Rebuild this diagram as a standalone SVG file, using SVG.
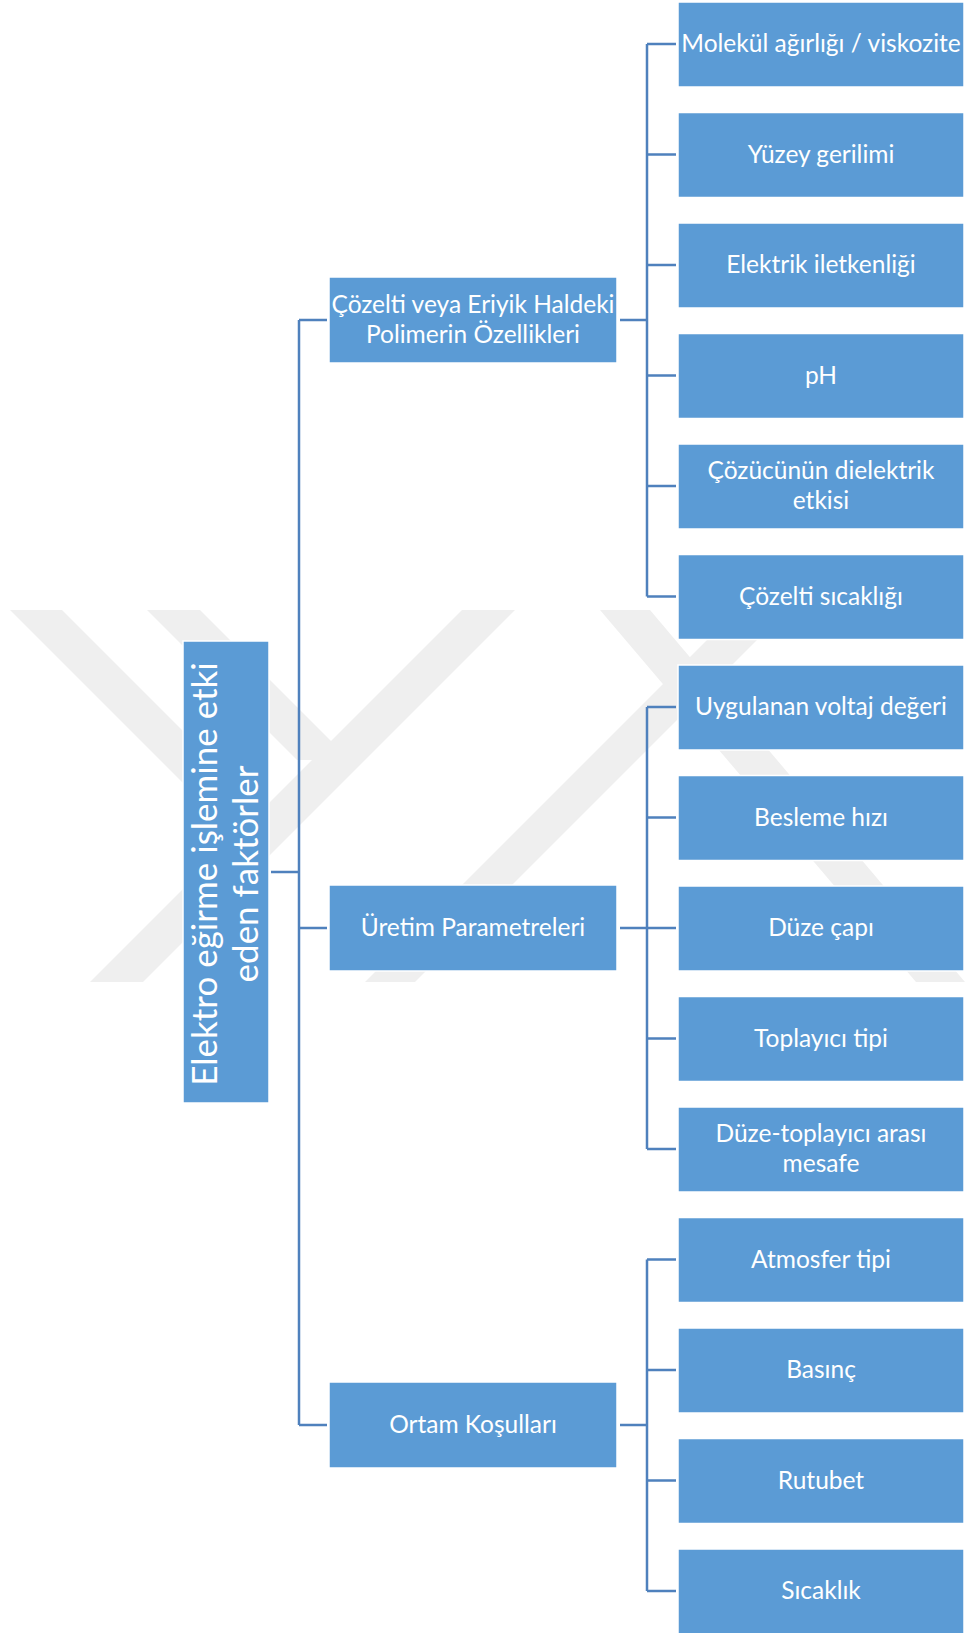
<svg xmlns="http://www.w3.org/2000/svg" width="969" height="1633" viewBox="0 0 969 1633">
<style>
.box{fill:#5b9bd5;stroke:#ffffff;stroke-width:1.5}
.t{font-family:Lato,"Open Sans","Liberation Sans",sans-serif;font-size:24.5px;fill:#ffffff;text-anchor:middle}
.rt{font-family:Lato,"Open Sans","Liberation Sans",sans-serif;font-size:35px;fill:#ffffff;text-anchor:middle}
.c{fill:none;stroke:#4f81bd;stroke-width:2.5}
.wm{fill:#efefef}
</style>
<rect width="969" height="1633" fill="#ffffff"/>
<g id="watermark">
<polygon class="wm" points="10,610 62,610 287,835 235,835"/>
<polygon class="wm" points="147,610 200,610 350,760 297,760"/>
<polygon class="wm" points="90,982 143,982 515,610 462,610"/>
<polygon class="wm" points="365,982 415,982 787,610 737,610"/>
<polygon class="wm" points="600,610 650,610 965,982 916,982"/>
</g>
<g id="connectors">
<path class="c" d="M271 872H299M299 320V1425M299 320H327M299 928H327M299 1425H327"/>
<path class="c" d="M620 320H647M647 44V596.5M647 44H676M647 154.5H676M647 265H676M647 375.5H676M647 486H676M647 596.5H676"/>
<path class="c" d="M620 928H647M647 707V1149M647 707H676M647 817.5H676M647 928H676M647 1038.5H676M647 1149H676"/>
<path class="c" d="M620 1425H647M647 1259.5V1591M647 1259.5H676M647 1370H676M647 1480.5H676M647 1591H676"/>
</g>
<g id="root"><rect class="box" x="183" y="641" width="86" height="462"/>
<text class="rt" transform="translate(226,874) rotate(-90)"><tspan x="0" y="-9">Elektro eğirme işlemine etki</tspan><tspan x="0" y="32">eden faktörler</tspan></text></g>
<g id="n1"><rect class="box" x="329" y="277" width="288" height="86"/><text class="t"><tspan x="473" y="313">Çözelti veya Eriyik Haldeki</tspan><tspan x="473" y="343">Polimerin Özellikleri</tspan></text></g>
<g id="n2"><rect class="box" x="329" y="885" width="288" height="86"/><text class="t" x="473" y="936">Üretim Parametreleri</text></g>
<g id="n3"><rect class="box" x="329" y="1382" width="288" height="86"/><text class="t" x="473" y="1433">Ortam Koşulları</text></g>
<g id="c1"><rect class="box" x="678" y="2" width="286" height="85"/><text class="t" x="821" y="52">Molekül ağırlığı / viskozite</text></g>
<g id="c2"><rect class="box" x="678" y="112.5" width="286" height="85"/><text class="t" x="821" y="162.5">Yüzey gerilimi</text></g>
<g id="c3"><rect class="box" x="678" y="223" width="286" height="85"/><text class="t" x="821" y="273">Elektrik iletkenliği</text></g>
<g id="c4"><rect class="box" x="678" y="333.5" width="286" height="85"/><text class="t" x="821" y="383.5">pH</text></g>
<g id="c5"><rect class="box" x="678" y="444" width="286" height="85"/><text class="t"><tspan x="821" y="479">Çözücünün dielektrik</tspan><tspan x="821" y="509">etkisi</tspan></text></g>
<g id="c6"><rect class="box" x="678" y="554.5" width="286" height="85"/><text class="t" x="821" y="604.5">Çözelti sıcaklığı</text></g>
<g id="c7"><rect class="box" x="678" y="665" width="286" height="85"/><text class="t" x="821" y="715">Uygulanan voltaj değeri</text></g>
<g id="c8"><rect class="box" x="678" y="775.5" width="286" height="85"/><text class="t" x="821" y="825.5">Besleme hızı</text></g>
<g id="c9"><rect class="box" x="678" y="886" width="286" height="85"/><text class="t" x="821" y="936">Düze çapı</text></g>
<g id="c10"><rect class="box" x="678" y="996.5" width="286" height="85"/><text class="t" x="821" y="1046.5">Toplayıcı tipi</text></g>
<g id="c11"><rect class="box" x="678" y="1107" width="286" height="85"/><text class="t"><tspan x="821" y="1142">Düze-toplayıcı arası</tspan><tspan x="821" y="1172">mesafe</tspan></text></g>
<g id="c12"><rect class="box" x="678" y="1217.5" width="286" height="85"/><text class="t" x="821" y="1267.5">Atmosfer tipi</text></g>
<g id="c13"><rect class="box" x="678" y="1328" width="286" height="85"/><text class="t" x="821" y="1378">Basınç</text></g>
<g id="c14"><rect class="box" x="678" y="1438.5" width="286" height="85"/><text class="t" x="821" y="1488.5">Rutubet</text></g>
<g id="c15"><rect class="box" x="678" y="1549" width="286" height="85"/><text class="t" x="821" y="1599">Sıcaklık</text></g>
</svg>
